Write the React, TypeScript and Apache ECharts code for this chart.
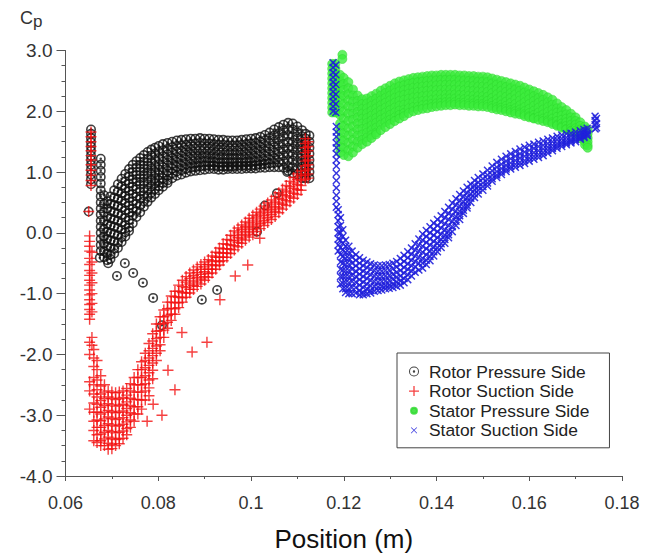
import React, { useEffect, useRef } from "react";
import * as echarts from "echarts";

// ---- Data: each row is [x, y1, y2, ...] ----
const rotorPressureCols: number[][] = [
  [0.0655, 1.70, 1.63, 1.56, 1.49, 1.42, 1.35, 1.27, 1.20, 1.12, 1.04, 0.96, 0.88, 0.80],
  [0.0676, 1.22, 1.12, 1.02, 0.92, 0.81, 0.70, 0.60, 0.50, 0.40, 0.30, 0.20, 0.10, 0.00, -0.10, -0.20, -0.30],
  [0.0683, 0.62, 0.48, 0.34, 0.20, 0.06, -0.06, -0.18, -0.30, -0.40],
  [0.0690, 0.52, 0.40, 0.27, 0.14, 0.02, -0.10, -0.22, -0.34, -0.45],
  [0.0697, 0.60, 0.48, 0.36, 0.24, 0.12, 0.00, -0.12, -0.24, -0.36, -0.43],
  [0.0705, 0.70, 0.58, 0.46, 0.34, 0.22, 0.10, -0.02, -0.14, -0.26, -0.34],
  [0.0713, 0.80, 0.68, 0.56, 0.44, 0.32, 0.20, 0.08, -0.04, -0.16, -0.25],
  [0.0721, 0.89, 0.77, 0.65, 0.53, 0.41, 0.29, 0.17, 0.05, -0.07, -0.15],
  [0.0729, 0.97, 0.85, 0.73, 0.61, 0.49, 0.37, 0.25, 0.13, 0.01, -0.06],
  [0.0737, 1.05, 0.93, 0.81, 0.69, 0.57, 0.45, 0.33, 0.21, 0.09, 0.03],
  [0.0745, 1.12, 1.00, 0.88, 0.76, 0.64, 0.52, 0.40, 0.28, 0.16],
  [0.0753, 1.18, 1.07, 0.95, 0.84, 0.72, 0.60, 0.48, 0.36, 0.26],
  [0.0761, 1.23, 1.12, 1.01, 0.90, 0.79, 0.68, 0.56, 0.45, 0.34],
  [0.0769, 1.28, 1.17, 1.06, 0.95, 0.84, 0.73, 0.62, 0.52, 0.43],
  [0.0777, 1.33, 1.22, 1.11, 1.00, 0.90, 0.80, 0.70, 0.60, 0.51],
  [0.0785, 1.37, 1.27, 1.16, 1.06, 0.96, 0.86, 0.76, 0.66, 0.58],
  [0.0793, 1.40, 1.30, 1.20, 1.10, 1.00, 0.90, 0.81, 0.72, 0.64],
  [0.0801, 1.43, 1.33, 1.23, 1.13, 1.04, 0.95, 0.86, 0.77, 0.70],
  [0.0810, 1.46, 1.36, 1.26, 1.17, 1.08, 0.99, 0.90, 0.82, 0.76],
  [0.0820, 1.48, 1.38, 1.29, 1.20, 1.11, 1.02, 0.94, 0.86, 0.82],
  [0.0830, 1.50, 1.41, 1.32, 1.23, 1.14, 1.06, 0.98, 0.90],
  [0.0840, 1.52, 1.43, 1.34, 1.25, 1.17, 1.09, 1.01, 0.94],
  [0.0850, 1.53, 1.44, 1.35, 1.27, 1.19, 1.11, 1.03, 0.96],
  [0.0860, 1.54, 1.45, 1.37, 1.29, 1.21, 1.13, 1.05, 0.99],
  [0.0870, 1.55, 1.46, 1.38, 1.30, 1.22, 1.14, 1.07, 1.01],
  [0.0880, 1.55, 1.47, 1.39, 1.31, 1.23, 1.15, 1.08, 1.02],
  [0.0890, 1.56, 1.48, 1.39, 1.31, 1.23, 1.16, 1.09, 1.03],
  [0.0900, 1.55, 1.47, 1.39, 1.31, 1.24, 1.17, 1.10, 1.04],
  [0.0910, 1.55, 1.47, 1.39, 1.31, 1.23, 1.16, 1.10, 1.05],
  [0.0920, 1.54, 1.46, 1.38, 1.30, 1.23, 1.16, 1.10, 1.05],
  [0.0930, 1.53, 1.45, 1.37, 1.29, 1.22, 1.15, 1.09, 1.04],
  [0.0940, 1.53, 1.45, 1.37, 1.29, 1.22, 1.15, 1.09, 1.04],
  [0.0950, 1.52, 1.44, 1.36, 1.29, 1.22, 1.15, 1.09, 1.05],
  [0.0960, 1.52, 1.44, 1.36, 1.29, 1.22, 1.15, 1.09, 1.05],
  [0.0970, 1.52, 1.44, 1.36, 1.29, 1.22, 1.15, 1.10, 1.05],
  [0.0980, 1.53, 1.45, 1.37, 1.29, 1.22, 1.15, 1.10, 1.05],
  [0.0990, 1.54, 1.46, 1.38, 1.30, 1.22, 1.16, 1.10, 1.06],
  [0.1000, 1.55, 1.47, 1.39, 1.31, 1.23, 1.16, 1.10, 1.06],
  [0.1010, 1.56, 1.48, 1.40, 1.32, 1.24, 1.17, 1.11, 1.06],
  [0.1020, 1.58, 1.50, 1.42, 1.34, 1.26, 1.18, 1.12, 1.07],
  [0.1030, 1.61, 1.52, 1.43, 1.35, 1.27, 1.19, 1.13, 1.07],
  [0.1040, 1.65, 1.56, 1.47, 1.38, 1.29, 1.21, 1.14, 1.08],
  [0.1050, 1.70, 1.60, 1.50, 1.41, 1.32, 1.23, 1.15, 1.08],
  [0.1060, 1.74, 1.64, 1.54, 1.44, 1.34, 1.25, 1.16, 1.08],
  [0.1070, 1.78, 1.68, 1.58, 1.47, 1.37, 1.27, 1.17, 1.07],
  [0.1080, 1.81, 1.71, 1.61, 1.50, 1.40, 1.30, 1.20, 1.10, 1.02],
  [0.1090, 1.80, 1.70, 1.59, 1.49, 1.39, 1.29, 1.19, 1.08, 0.98],
  [0.1100, 1.75, 1.65, 1.55, 1.45, 1.35, 1.25, 1.15, 1.05, 0.96],
  [0.1110, 1.69, 1.59, 1.49, 1.39, 1.29, 1.19, 1.09, 0.99, 0.90],
  [0.1118, 1.63, 1.55, 1.47, 1.39, 1.31, 1.23, 1.15, 1.07, 0.99, 0.90],
  [0.1126, 1.60, 1.50, 1.40, 1.30, 1.20, 1.10, 1.00, 0.90],
];
const rotorPressureIsolated: number[][] = [
  [0.0650, 0.35], [0.0674, -0.41], [0.0692, -0.50], [0.0728, -0.50], [0.0711, -0.71],
  [0.0746, -0.66], [0.0767, -0.82], [0.0789, -1.07], [0.0808, -1.52], [0.0894, -1.10],
  [0.0927, -0.94], [0.1013, 0.02], [0.1030, 0.45], [0.1056, 0.65], [0.1078, 1.00],
];

const rotorSuctionCols: number[][] = [
  [0.0655, 1.66, 1.58, 1.50, 1.42, 1.35, 1.27, 1.20, 1.12, 1.03, 0.95, 0.86, 0.78],
  [0.0650, 0.35],
  [0.0652, -0.05, -0.14, -0.22, -0.30, -0.42, -0.52, -0.62, -0.70, -0.78, -0.86, -0.94, -1.02, -1.10, -1.18, -1.26, -1.34, -1.42, -1.80, -2.00, -2.45, -2.60, -2.90],
  [0.0657, -0.32, -0.48, -0.66, -0.82, -1.00, -1.16, -1.30, -1.72, -1.85],
  [0.0661, -1.92, -2.06, -2.20, -2.38, -2.50, -2.65, -2.80, -2.95, -3.10, -3.25, -3.42],
  [0.0668, -2.10, -2.25, -2.42, -2.58, -2.70, -2.82, -2.95, -3.08, -3.20, -3.32, -3.45],
  [0.0676, -2.35, -2.52, -2.65, -2.76, -2.87, -2.98, -3.09, -3.20, -3.31, -3.42, -3.50],
  [0.0684, -2.50, -2.62, -2.73, -2.84, -2.95, -3.06, -3.17, -3.28, -3.39, -3.50],
  [0.0692, -2.60, -2.70, -2.81, -2.92, -3.03, -3.14, -3.25, -3.36, -3.46, -3.56],
  [0.0700, -2.62, -2.72, -2.83, -2.94, -3.05, -3.16, -3.27, -3.38, -3.48, -3.55],
  [0.0708, -2.63, -2.74, -2.85, -2.96, -3.07, -3.18, -3.29, -3.40, -3.50],
  [0.0716, -2.62, -2.73, -2.84, -2.95, -3.06, -3.17, -3.28, -3.39, -3.47],
  [0.0724, -2.60, -2.71, -2.82, -2.93, -3.04, -3.15, -3.26, -3.38],
  [0.0732, -2.56, -2.67, -2.78, -2.89, -3.00, -3.11, -3.22, -3.32],
  [0.0740, -2.48, -2.60, -2.72, -2.84, -2.96, -3.08, -3.20],
  [0.0748, -2.38, -2.50, -2.62, -2.74, -2.86, -2.98, -3.10],
  [0.0756, -2.25, -2.38, -2.50, -2.62, -2.74, -2.86, -2.98],
  [0.0764, -2.12, -2.25, -2.38, -2.50, -2.62, -2.75, -2.90],
  [0.0772, -1.98, -2.10, -2.22, -2.35, -2.48, -2.60, -2.75],
  [0.0780, -1.82, -1.94, -2.06, -2.18, -2.30, -2.42, -2.55, -2.68],
  [0.0788, -1.66, -1.78, -1.90, -2.02, -2.14, -2.26, -2.40],
  [0.0796, -1.50, -1.62, -1.74, -1.86, -1.98, -2.10],
  [0.0804, -1.38, -1.50, -1.61, -1.72, -1.84, -1.94],
  [0.0812, -1.27, -1.38, -1.49, -1.60, -1.72],
  [0.0820, -1.14, -1.25, -1.36, -1.47, -1.57],
  [0.0828, -1.04, -1.14, -1.24, -1.34, -1.44],
  [0.0836, -0.96, -1.05, -1.15, -1.25, -1.34],
  [0.0844, -0.86, -0.96, -1.06, -1.15, -1.23],
  [0.0852, -0.78, -0.88, -0.98, -1.07, -1.14],
  [0.0860, -0.72, -0.81, -0.90, -0.99, -1.06],
  [0.0868, -0.66, -0.75, -0.84, -0.93, -0.99],
  [0.0876, -0.61, -0.70, -0.79, -0.87, -0.93],
  [0.0884, -0.56, -0.65, -0.73, -0.81, -0.88],
  [0.0892, -0.52, -0.60, -0.68, -0.76, -0.84],
  [0.0900, -0.48, -0.56, -0.64, -0.72, -0.78],
  [0.0908, -0.44, -0.52, -0.60, -0.67, -0.73],
  [0.0916, -0.38, -0.46, -0.53, -0.60, -0.66],
  [0.0924, -0.32, -0.40, -0.47, -0.54, -0.60],
  [0.0932, -0.25, -0.33, -0.40, -0.47, -0.53],
  [0.0940, -0.18, -0.26, -0.33, -0.40, -0.46],
  [0.0948, -0.11, -0.19, -0.26, -0.33, -0.40],
  [0.0956, -0.04, -0.12, -0.20, -0.27, -0.34],
  [0.0964, 0.03, -0.05, -0.13, -0.21, -0.28],
  [0.0972, 0.08, 0.00, -0.08, -0.16, -0.23],
  [0.0980, 0.13, 0.05, -0.03, -0.10, -0.17],
  [0.0988, 0.18, 0.10, 0.02, -0.05, -0.12],
  [0.0996, 0.24, 0.16, 0.08, 0.00, -0.07],
  [0.1004, 0.29, 0.21, 0.13, 0.05, -0.03],
  [0.1012, 0.34, 0.26, 0.18, 0.10, 0.02],
  [0.1020, 0.39, 0.31, 0.23, 0.15, 0.07],
  [0.1028, 0.44, 0.36, 0.28, 0.20, 0.12],
  [0.1036, 0.49, 0.41, 0.33, 0.25, 0.17],
  [0.1044, 0.54, 0.46, 0.38, 0.30, 0.22],
  [0.1052, 0.60, 0.51, 0.43, 0.35, 0.27],
  [0.1060, 0.66, 0.57, 0.49, 0.41, 0.33],
  [0.1068, 0.72, 0.63, 0.55, 0.47, 0.39],
  [0.1076, 0.78, 0.69, 0.61, 0.53, 0.45],
  [0.1084, 0.85, 0.76, 0.67, 0.59, 0.51],
  [0.1092, 0.91, 0.82, 0.73, 0.65, 0.57],
  [0.1100, 0.97, 0.88, 0.79, 0.71, 0.63],
  [0.1108, 1.02, 0.94, 0.86, 0.78, 0.70],
  [0.1117, 1.55, 1.47, 1.40, 1.32, 1.25, 1.18, 1.10, 1.02, 0.95, 0.88],
  [0.1123, 1.50, 1.42, 1.35, 1.27, 1.20, 1.12, 1.05, 0.97, 0.90],
];
const rotorSuctionIsolated: number[][] = [
  [0.0993, -0.53], [0.0966, -0.71], [0.0933, -1.10], [0.0905, -1.80], [0.0873, -1.96],
  [0.0836, -2.58], [0.0808, -3.00], [0.0789, -2.82], [0.0776, -3.10], [0.0821, -2.26],
  [0.0851, -1.64], [0.1019, -0.09],
];

const statorPressureCols: number[][] = [
  [0.1175, 2.78, 2.70, 2.62, 2.54, 2.46, 2.38, 2.30, 2.22, 2.14, 2.06, 1.98],
  [0.1182, 2.78, 2.70, 2.62, 2.54, 2.46, 2.38, 2.30, 2.22, 2.14, 2.06, 1.98],
  [0.1197, 2.93, 2.86],
  [0.1192, 2.60, 2.50, 2.40, 2.28, 2.18, 2.06, 1.94, 1.80, 1.68, 1.55, 1.42, 1.32],
  [0.1200, 2.55, 2.45, 2.35, 2.25, 2.12, 2.00, 1.88, 1.76, 1.64, 1.52, 1.40, 1.28],
  [0.1210, 2.48, 2.38, 2.28, 2.18, 2.08, 1.96, 1.84, 1.72, 1.60, 1.48, 1.36, 1.26],
  [0.1220, 2.36, 2.26, 2.16, 2.06, 1.96, 1.86, 1.75, 1.64, 1.53, 1.42, 1.32],
  [0.1230, 2.26, 2.17, 2.08, 1.99, 1.90, 1.80, 1.70, 1.60, 1.50, 1.40],
  [0.1240, 2.20, 2.12, 2.04, 1.96, 1.88, 1.80, 1.71, 1.62, 1.53, 1.46],
  [0.1250, 2.21, 2.13, 2.05, 1.97, 1.89, 1.81, 1.73, 1.65, 1.57, 1.50],
  [0.1260, 2.25, 2.17, 2.09, 2.01, 1.93, 1.85, 1.77, 1.69, 1.61, 1.56],
  [0.1270, 2.29, 2.21, 2.13, 2.05, 1.97, 1.89, 1.81, 1.73, 1.65, 1.62],
  [0.1280, 2.34, 2.26, 2.18, 2.10, 2.02, 1.94, 1.86, 1.78, 1.69],
  [0.1290, 2.38, 2.30, 2.22, 2.14, 2.06, 1.98, 1.90, 1.82, 1.74],
  [0.1300, 2.42, 2.34, 2.26, 2.18, 2.10, 2.02, 1.94, 1.86, 1.79],
  [0.1310, 2.46, 2.38, 2.30, 2.22, 2.14, 2.06, 1.98, 1.90, 1.84],
  [0.1320, 2.49, 2.41, 2.33, 2.25, 2.17, 2.09, 2.01, 1.94, 1.88],
  [0.1330, 2.51, 2.43, 2.35, 2.27, 2.19, 2.11, 2.03, 1.97, 1.92],
  [0.1340, 2.53, 2.45, 2.37, 2.29, 2.21, 2.13, 2.05, 1.97],
  [0.1350, 2.55, 2.47, 2.39, 2.31, 2.23, 2.15, 2.07, 2.00],
  [0.1360, 2.56, 2.48, 2.40, 2.32, 2.24, 2.16, 2.08, 2.02],
  [0.1370, 2.57, 2.49, 2.41, 2.33, 2.25, 2.17, 2.10, 2.04],
  [0.1380, 2.58, 2.50, 2.42, 2.34, 2.26, 2.18, 2.11, 2.05],
  [0.1390, 2.59, 2.51, 2.43, 2.35, 2.27, 2.19, 2.12, 2.07],
  [0.1400, 2.59, 2.51, 2.43, 2.35, 2.27, 2.20, 2.13, 2.08],
  [0.1410, 2.60, 2.52, 2.44, 2.36, 2.28, 2.20, 2.14, 2.09],
  [0.1420, 2.60, 2.52, 2.44, 2.36, 2.28, 2.21, 2.15, 2.10],
  [0.1430, 2.60, 2.52, 2.44, 2.36, 2.28, 2.21, 2.15, 2.10],
  [0.1440, 2.60, 2.52, 2.44, 2.36, 2.28, 2.21, 2.15, 2.11],
  [0.1450, 2.59, 2.51, 2.43, 2.35, 2.27, 2.20, 2.14, 2.10],
  [0.1460, 2.59, 2.51, 2.43, 2.35, 2.27, 2.20, 2.14, 2.10],
  [0.1470, 2.58, 2.50, 2.42, 2.34, 2.26, 2.19, 2.13, 2.09],
  [0.1480, 2.58, 2.50, 2.42, 2.34, 2.26, 2.19, 2.13, 2.09],
  [0.1490, 2.57, 2.49, 2.41, 2.33, 2.25, 2.18, 2.12, 2.08],
  [0.1500, 2.57, 2.49, 2.41, 2.33, 2.25, 2.18, 2.12, 2.08],
  [0.1510, 2.56, 2.48, 2.40, 2.32, 2.24, 2.17, 2.11, 2.07],
  [0.1520, 2.54, 2.46, 2.38, 2.30, 2.22, 2.15, 2.09, 2.05],
  [0.1530, 2.52, 2.44, 2.36, 2.28, 2.20, 2.13, 2.07, 2.03],
  [0.1540, 2.50, 2.42, 2.34, 2.26, 2.18, 2.11, 2.06, 2.02],
  [0.1550, 2.48, 2.40, 2.32, 2.24, 2.16, 2.09, 2.04, 2.00],
  [0.1560, 2.46, 2.38, 2.30, 2.22, 2.14, 2.07, 2.02, 1.98],
  [0.1570, 2.44, 2.36, 2.28, 2.20, 2.12, 2.05, 2.00, 1.96],
  [0.1580, 2.42, 2.34, 2.26, 2.18, 2.10, 2.03, 1.98, 1.95],
  [0.1590, 2.39, 2.31, 2.23, 2.15, 2.07, 2.00, 1.95, 1.92],
  [0.1600, 2.36, 2.28, 2.20, 2.12, 2.04, 1.97, 1.92, 1.90],
  [0.1610, 2.33, 2.25, 2.17, 2.09, 2.01, 1.94, 1.89, 1.88],
  [0.1620, 2.30, 2.22, 2.14, 2.06, 1.98, 1.91, 1.86],
  [0.1630, 2.27, 2.19, 2.11, 2.03, 1.95, 1.88, 1.84],
  [0.1640, 2.23, 2.15, 2.07, 1.99, 1.91, 1.85, 1.82],
  [0.1650, 2.19, 2.11, 2.03, 1.95, 1.88, 1.82, 1.79],
  [0.1660, 2.13, 2.05, 1.98, 1.91, 1.84, 1.78, 1.76],
  [0.1670, 2.07, 2.00, 1.93, 1.86, 1.80, 1.75, 1.73],
  [0.1680, 2.02, 1.95, 1.88, 1.82, 1.76, 1.71, 1.70],
  [0.1690, 1.96, 1.90, 1.84, 1.78, 1.72, 1.68, 1.67],
  [0.1700, 1.90, 1.84, 1.78, 1.72, 1.68, 1.64],
  [0.1710, 1.82, 1.76, 1.70, 1.65, 1.60, 1.56],
  [0.1720, 1.75, 1.68, 1.62, 1.56, 1.50, 1.45],
  [0.1726, 1.70, 1.63, 1.56, 1.50, 1.44, 1.40],
];

const statorSuctionCols: number[][] = [
  [0.1177, 2.80, 2.72, 2.64, 2.56, 2.48, 2.40, 2.32, 2.24, 2.16, 2.08, 2.00],
  [0.1183, 2.76, 2.60, 2.44, 2.28, 2.12, 1.98],
  [0.1184, 1.75, 1.66, 1.58, 1.48, 1.40, 1.30, 1.20, 1.10, 0.98, 0.86, 0.74, 0.62, 0.52, 0.42],
  [0.1188, 0.38, 0.30, 0.20, 0.10, 0.00, -0.10, -0.20, -0.30],
  [0.1193, 0.25, 0.12, 0.00, -0.12, -0.24, -0.36, -0.48, -0.60, -0.72, -0.84],
  [0.1198, 0.05, -0.06, -0.17, -0.28, -0.39, -0.50, -0.61, -0.72, -0.83, -0.92],
  [0.1204, -0.12, -0.22, -0.32, -0.42, -0.52, -0.62, -0.72, -0.82, -0.92, -0.98],
  [0.1211, -0.22, -0.32, -0.42, -0.52, -0.62, -0.72, -0.82, -0.92, -1.00],
  [0.1218, -0.30, -0.40, -0.50, -0.60, -0.70, -0.80, -0.90, -1.00],
  [0.1226, -0.36, -0.45, -0.54, -0.63, -0.72, -0.81, -0.90, -0.99],
  [0.1234, -0.41, -0.50, -0.59, -0.68, -0.77, -0.86, -0.95, -1.02],
  [0.1242, -0.45, -0.54, -0.63, -0.72, -0.81, -0.90, -0.98, -1.02],
  [0.1250, -0.48, -0.57, -0.66, -0.75, -0.84, -0.92, -1.00],
  [0.1258, -0.51, -0.60, -0.69, -0.78, -0.87, -0.95, -0.99],
  [0.1266, -0.53, -0.62, -0.71, -0.80, -0.88, -0.96],
  [0.1274, -0.54, -0.63, -0.72, -0.81, -0.89, -0.95],
  [0.1282, -0.54, -0.63, -0.72, -0.80, -0.88, -0.94],
  [0.1290, -0.53, -0.62, -0.71, -0.79, -0.87, -0.92],
  [0.1298, -0.52, -0.61, -0.70, -0.78, -0.86, -0.91],
  [0.1306, -0.50, -0.59, -0.68, -0.76, -0.84, -0.90],
  [0.1314, -0.47, -0.56, -0.65, -0.73, -0.81, -0.88],
  [0.1322, -0.42, -0.52, -0.62, -0.71, -0.79, -0.86],
  [0.1330, -0.37, -0.47, -0.57, -0.66, -0.75, -0.82],
  [0.1338, -0.31, -0.41, -0.51, -0.60, -0.69, -0.77],
  [0.1346, -0.25, -0.35, -0.45, -0.54, -0.63, -0.71],
  [0.1354, -0.18, -0.28, -0.38, -0.47, -0.56, -0.65],
  [0.1362, -0.10, -0.20, -0.30, -0.40, -0.50, -0.61],
  [0.1370, -0.02, -0.12, -0.22, -0.32, -0.42, -0.50, -0.58],
  [0.1378, 0.04, -0.06, -0.16, -0.26, -0.36, -0.45, -0.52],
  [0.1386, 0.10, 0.00, -0.10, -0.20, -0.30, -0.39, -0.46],
  [0.1394, 0.16, 0.06, -0.04, -0.14, -0.23, -0.31, -0.38],
  [0.1402, 0.22, 0.12, 0.02, -0.08, -0.17, -0.25, -0.31],
  [0.1410, 0.28, 0.18, 0.08, -0.02, -0.11, -0.18, -0.24],
  [0.1418, 0.35, 0.25, 0.15, 0.05, -0.04, -0.11, -0.17],
  [0.1426, 0.42, 0.32, 0.22, 0.12, 0.03, -0.03, -0.08],
  [0.1434, 0.49, 0.39, 0.29, 0.19, 0.10, 0.02],
  [0.1442, 0.56, 0.46, 0.36, 0.27, 0.19, 0.12],
  [0.1450, 0.63, 0.53, 0.44, 0.35, 0.28, 0.22],
  [0.1458, 0.69, 0.60, 0.51, 0.43, 0.37, 0.32],
  [0.1466, 0.75, 0.66, 0.58, 0.51, 0.45, 0.41],
  [0.1474, 0.80, 0.72, 0.64, 0.57, 0.50],
  [0.1482, 0.86, 0.78, 0.71, 0.64, 0.58],
  [0.1490, 0.91, 0.83, 0.76, 0.70, 0.64],
  [0.1500, 0.97, 0.89, 0.82, 0.76, 0.70],
  [0.1510, 1.03, 0.95, 0.88, 0.82, 0.77],
  [0.1520, 1.10, 1.02, 0.95, 0.89, 0.85],
  [0.1530, 1.16, 1.08, 1.01, 0.95, 0.91],
  [0.1540, 1.21, 1.13, 1.06, 1.00, 0.96],
  [0.1550, 1.26, 1.18, 1.11, 1.05, 1.01],
  [0.1560, 1.30, 1.22, 1.15, 1.09, 1.05],
  [0.1570, 1.34, 1.26, 1.19, 1.13, 1.08],
  [0.1580, 1.38, 1.30, 1.23, 1.16, 1.11],
  [0.1590, 1.41, 1.33, 1.26, 1.19, 1.14],
  [0.1600, 1.44, 1.36, 1.29, 1.23, 1.18],
  [0.1610, 1.46, 1.39, 1.32, 1.26, 1.21],
  [0.1620, 1.49, 1.42, 1.35, 1.29, 1.24],
  [0.1630, 1.51, 1.44, 1.38, 1.32, 1.27],
  [0.1640, 1.54, 1.47, 1.41, 1.36, 1.31],
  [0.1650, 1.56, 1.50, 1.44, 1.39, 1.35],
  [0.1660, 1.59, 1.53, 1.47, 1.43, 1.39],
  [0.1670, 1.61, 1.55, 1.50, 1.46, 1.42],
  [0.1680, 1.63, 1.57, 1.52, 1.48, 1.45],
  [0.1690, 1.64, 1.59, 1.54, 1.51, 1.48],
  [0.1700, 1.66, 1.61, 1.57, 1.53, 1.50],
  [0.1710, 1.68, 1.63, 1.59, 1.56, 1.54],
  [0.1718, 1.70, 1.66, 1.62, 1.59, 1.57],
  [0.1725, 1.72, 1.68, 1.64, 1.61, 1.60],
  [0.1742, 1.92, 1.85, 1.78, 1.71],
  [0.1745, 1.88, 1.80, 1.73],
];

const seriesNames = ["Rotor Pressure Side", "Rotor Suction Side", "Stator Pressure Side", "Stator Suction Side"];

const toPoints = (cols: number[][]) => cols.flatMap(([x, ...ys]) => ys.map((y) => [x, y]));

// marker shapes
const RING_DOT =
  "path://M10,0A10,10,0,1,1,10,20A10,10,0,1,1,10,0ZM10,3.2A6.8,6.8,0,1,0,10,16.8A6.8,6.8,0,1,0,10,3.2ZM10,7.4A2.6,2.6,0,1,1,10,12.6A2.6,2.6,0,1,1,10,7.4Z";
const LEGEND_RING_DOT =
  "path://M10,0A10,10,0,1,1,10,20A10,10,0,1,1,10,0ZM10,2A8,8,0,1,0,10,18A8,8,0,1,0,10,2ZM10,7.6A2.4,2.4,0,1,1,10,12.4A2.4,2.4,0,1,1,10,7.6Z";
const LEGEND_GREEN =
  "path://M-7,-7M27,27M10,0A10,10,0,1,1,10,20A10,10,0,1,1,10,0ZM10,4A6,6,0,1,0,10,16A6,6,0,1,0,10,4ZM10,7.5A2.5,2.5,0,1,1,10,12.5A2.5,2.5,0,1,1,10,7.5Z";
const PLUS = "path://M4.35,0H5.65V4.35H10V5.65H5.65V10H4.35V5.65H0V4.35H4.35Z";
const CROSS =
  "path://M0,1.3L1.3,0L5,3.7L8.7,0L10,1.3L6.3,5L10,8.7L8.7,10L5,6.3L1.3,10L0,8.7L3.7,5Z";
const LEGEND_CROSS =
  "path://M-3,-3M13,13M0,0.8L0.8,0L5,4.2L9.2,0L10,0.8L5.8,5L10,9.2L9.2,10L5,5.8L0.8,10L0,9.2L4.2,5Z";

const FONT = "Liberation Sans";

export default function App() {
  const ref = useRef<HTMLDivElement>(null);

  useEffect(() => {
    if (!ref.current) return;
    const chart = echarts.init(ref.current, undefined, { renderer: "svg" });
    const axisColor = "#555";
    chart.setOption({
      animation: false,
      backgroundColor: "#fff",
      grid: { left: 65.5, right: 32, top: 50.5, bottom: 77, containLabel: false },
      xAxis: {
        type: "value",
        min: 0.06,
        max: 0.18,
        interval: 0.02,
        axisLine: { show: true, onZero: false, lineStyle: { color: axisColor, width: 1 } },
        axisTick: { show: true, length: 5, lineStyle: { color: axisColor } },
        minorTick: { show: true, splitNumber: 2, length: 3, lineStyle: { color: axisColor } },
        splitLine: { show: false },
        axisLabel: {
          formatter: (v: number) => String(parseFloat(v.toFixed(2))),
          fontSize: 18,
          fontFamily: FONT,
          color: "#333",
          margin: 18,
        },
        name: "Position (m)",
        nameLocation: "middle",
        nameGap: 50,
        nameTextStyle: { fontSize: 26, fontFamily: FONT, color: "#111" },
      },
      yAxis: {
        type: "value",
        min: -4,
        max: 3,
        interval: 1,
        axisLine: { show: true, onZero: false, lineStyle: { color: axisColor, width: 1 } },
        axisTick: { show: true, length: 9, lineStyle: { color: axisColor } },
        minorTick: { show: true, splitNumber: 4, length: 4, lineStyle: { color: axisColor } },
        splitLine: { show: false },
        axisLabel: {
          formatter: (v: number) => v.toFixed(1),
          fontSize: 19,
          fontFamily: FONT,
          color: "#333",
          margin: 13,
        },
      },
      legend: {
        orient: "vertical",
        left: 397,
        top: 353,
        padding: [10, 20, 9, 11],
        itemWidth: 20,
        itemHeight: 10,
        itemGap: 2.6,
        borderColor: "#444",
        borderWidth: 1,
        backgroundColor: "#fff",
        selectedMode: false,
        textStyle: { fontSize: 17.4, fontFamily: FONT, color: "#222", lineHeight: 17 },
        data: [
          { name: seriesNames[0], icon: LEGEND_RING_DOT },
          { name: seriesNames[1], icon: PLUS },
          { name: seriesNames[2], icon: LEGEND_GREEN },
          { name: seriesNames[3], icon: LEGEND_CROSS },
        ],
      },
      graphic: [
        { type: "text", left: 20, top: 9, style: { text: "C", fontSize: 18, fontFamily: FONT, fill: "#333" } },
        { type: "text", left: 33, top: 13, style: { text: "p", fontSize: 17, fontFamily: FONT, fill: "#333" } },
      ],
      series: [
        {
          name: seriesNames[0],
          type: "scatter",
          symbol: RING_DOT,
          symbolSize: 10,
          itemStyle: { color: "#111" },
          silent: true,
          data: [...toPoints(rotorPressureCols), ...rotorPressureIsolated],
        },
        {
          name: seriesNames[1],
          type: "scatter",
          symbol: PLUS,
          symbolSize: 11,
          itemStyle: { color: "#f21010" },
          silent: true,
          data: [...toPoints(rotorSuctionCols), ...rotorSuctionIsolated],
        },
        {
          name: seriesNames[2],
          type: "scatter",
          symbol: "circle",
          symbolSize: 9,
          itemStyle: { color: "#3cec3c", borderColor: "#2ad82a", borderWidth: 0.6 },
          silent: true,
          data: toPoints(statorPressureCols),
        },
        {
          name: seriesNames[3],
          type: "scatter",
          symbol: CROSS,
          symbolSize: 8,
          itemStyle: { color: "#2020dc", opacity: 0.9 },
          silent: true,
          data: toPoints(statorSuctionCols),
        },
      ],
    });
    return () => chart.dispose();
  }, []);

  return (
    <div
      ref={ref}
      style={{ position: "absolute", left: 0, top: 0, width: 654, height: 557 }}
    />
  );
}
